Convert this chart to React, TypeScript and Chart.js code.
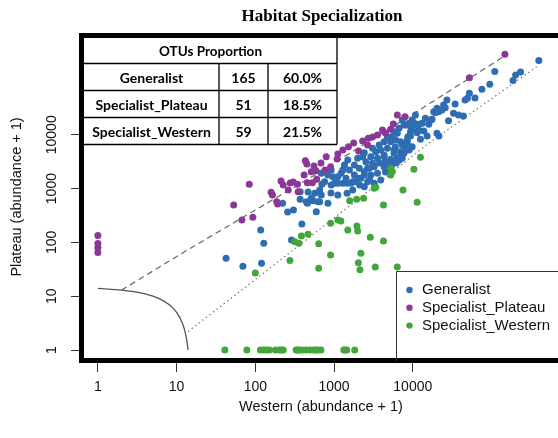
import React, { useEffect, useRef } from "react";
import { Chart, registerables } from "chart.js";

Chart.register(...registerables);

// ---------- data ----------
const xTickValues = [1, 10, 100, 1000, 10000];
const yTickValues = [1, 10, 100, 1000, 10000];
const xLimits = [0.6288, 621600];
const yLimits = [0.6246, 685600];

const chartTitle = "Habitat Specialization";
const xTitle = "Western (abundance + 1)";
const yTitle = "Plateau (abundance + 1)";

const groupNames = ["Generalist", "Specialist_Plateau", "Specialist_Western"];
const tableTitle = "OTUs Proportion";
const tableCounts = [165, 51, 59];
const tablePercents = ["60.0%", "18.5%", "21.5%"];

const generalistX = [
  42.5, 69.5, 120, 117, 128, 222, 257, 305, 288, 390, 371, 371, 458, 541, 568, 595, 656, 702, 688, 836,
  919, 1014, 1117, 1291, 1462, 1462, 1726, 1995, 2421, 2666, 3080, 3562, 4325, 5236, 6795, 2421, 5780, 8090, 9820, 6050,
  7000, 8500, 9350, 10320, 11930, 13130, 14450, 17060, 18450, 20290, 21320, 24620, 27110, 34500, 28450, 32890, 38020, 43950, 20290, 21490,
  12500, 15180, 11360, 13800, 9820, 10320, 11930, 15950, 17550, 19320, 23450, 25820, 46100, 49430, 52360, 61640, 75510, 95100, 109900, 187500,
  202300, 233800, 398800, 8500, 9350,
  7350, 8330, 9550, 8670, 6680, 5780, 4760, 5236, 7350, 7000, 5780, 4760, 4325, 3740, 3390, 2930, 2536, 2306, 1995, 1811,
  2094, 2421, 2800, 3236, 2930, 3562, 4325, 5236, 6361, 7730, 6180, 5345, 4490, 3917, 3236, 2666, 2193, 1811, 1567, 1355,
  1228, 1420, 1642, 1897, 1117, 966, 919, 759, 656, 514, 445, 688, 836, 625, 1117, 2421, 2825, 7350, 4900, 7140,
  10810, 9820, 8930, 7730, 6361, 5503, 4325, 3917, 3080,
  1726, 1291, 4490, 9010, 6000, 3775, 2113, 1493, 912, 468, 766,
];
const generalistY = [
  50.6, 36, 40.9, 170, 96.2, 533, 367, 400, 111, 220, 876, 632, 533, 596, 818, 372, 571, 1202, 1923, 1790,
  2218, 1254, 1664, 1254, 1254, 818, 1343, 1553, 1790, 2384, 2951, 3656, 3917, 3506, 3404, 4650, 4530, 5610, 6010, 8000,
  7450, 8000, 11420, 15200, 12280, 16360, 20270, 18840, 26860, 31100, 26860, 35800, 44360, 37350, 18280, 25100, 23340, 22350, 10660, 9500,
  8250, 9500, 10940, 11770, 12650, 16790, 15670, 15670, 19410, 25760, 28900, 31910, 44360, 47650, 59050, 48310, 70130, 86860, 150100, 102100,
  129200, 146900, 240400, 7130, 9500,
  18840, 15200, 13210, 9220, 13210, 11420, 9220, 7450, 6460, 4850, 5220, 5610, 4210, 6460, 4850, 3917, 3162, 3917, 3656, 2747,
  2384, 2061, 2384, 2553, 1790, 1923, 2553, 3162, 3656, 4530, 2990, 2630, 2034, 1445, 1254, 1343, 1553, 1790, 2218, 2747,
  1923, 1553, 1254, 1343, 1254, 1664, 1167, 1343, 942, 660, 571, 760, 533, 571, 760, 1084, 1445, 3705, 2415, 4210,
  23340, 18840, 16360, 15200, 10660, 9220, 7450, 5220, 5610,
  942, 2218, 3120, 5220, 5920, 2990, 1167, 3404, 828, 865, 2034,
];

const plateauX = [
  1, 1, 1, 1, 53.1, 67.6, 93, 83.8, 158.5, 165, 187, 192, 212, 226, 343, 350, 417, 432, 451, 458,
  530, 590, 602, 514, 795, 903, 1094, 1117, 1523, 2051, 2718, 2666, 3562, 4118, 5236, 6361, 7943, 52360, 147900, 1291,
  1775, 2306, 3080, 4490, 5660, 682, 556, 262, 303, 277, 766,
];
const plateauY = [
  135, 95, 80, 65, 496, 261, 293, 1202, 853, 760, 571, 517, 1384, 1167, 1202, 876, 1790, 3300, 2866, 1288,
  1288, 2152, 1489, 2061, 3917, 2553, 3548, 4395, 6010, 5000, 8610, 6460, 9910, 12280, 12650, 23340, 21680, 115100, 314800, 5212,
  7040, 7670, 9100, 10800, 15880, 2990, 2630, 942, 1327, 1271, 2218,
];

const westernX = [
  100, 275, 318, 357, 385, 468, 638, 638, 903, 903, 1117, 1220, 1493, 1950, 1995, 1581, 1937, 2373, 2884, 4240,
  2190, 2035, 2130, 3335, 6361, 3236, 3390, 4240, 7500, 11360, 5236, 5500, 5236, 10330, 12500,
  41, 78, 116, 127, 138, 151, 180, 202, 214, 226, 330, 344, 360, 393, 441, 496, 557, 590, 625, 682,
  1330, 1380, 1450, 1830,
];
const westernY = [
  27, 46, 103, 96, 131, 141, 94, 33, 226, 58, 261, 250, 170, 202, 163, 596, 632, 660, 124, 106,
  63, 42, 31, 35, 35, 1010, 1057, 496, 942, 556, 2384, 2080, 1790, 2285, 3820,
  1, 1, 1, 1, 1, 1, 1, 1, 1, 1, 1, 1, 1, 1, 1, 1, 1, 1, 1, 1,
  1, 1, 1, 1,
];

// threshold curve and classification lines
const curveX = [1, 2, 3, 4, 5, 6, 7, 8, 9, 10, 11, 12, 12.5, 13, 13.5, 14];
const curveY = [14, 13, 12, 11, 10, 9, 8, 7, 6, 5, 4, 3, 2.5, 2, 1.5, 1];
const dashedX = [2, 15, 570, 8500, 138000];
const dashedY = [13, 78, 1790, 20800, 275000];
const dottedX = [14, 367, 2666, 15200, 387000];
const dottedY = [2.2, 90, 876, 6660, 190000];

// ---------- styling ----------
const BLUE = "#2f6db3";
const PURPLE = "#8a3898";
const GREEN = "#43a63c";
const SANS = "'Liberation Sans', Arial, sans-serif";

const pts = (xs: number[], ys: number[]) => xs.map((x, i) => ({ x, y: ys[i] }));

const decorPlugin = {
  id: "decor",
  afterDraw(chart: any) {
    const { ctx, chartArea: ca, scales } = chart;
    const ys = scales.y;
    ctx.save();

    // thick plot frame (right side falls outside the canvas)
    ctx.strokeStyle = "#000";
    ctx.lineWidth = 5;
    ctx.strokeRect(ca.left - 0.5, ca.top - 0.5, ca.right - ca.left + 12, ca.bottom - ca.top);

    // title
    ctx.fillStyle = "#000";
    ctx.font = "bold 17px 'Liberation Serif', 'Times New Roman', serif";
    ctx.textAlign = "center";
    ctx.textBaseline = "middle";
    ctx.fillText(chartTitle, 322, 17);

    // axis titles
    ctx.fillStyle = "#111";
    ctx.font = `14.5px ${SANS}`;
    ctx.fillText(xTitle, 321, 407);
    ctx.save();
    ctx.translate(17, 197);
    ctx.rotate(-Math.PI / 2);
    ctx.fillText(yTitle, 0, 0);
    ctx.restore();

    // y tick labels (rotated, R style)
    ctx.font = `14px ${SANS}`;
    yTickValues.forEach((v) => {
      const py = ys.getPixelForValue(v);
      ctx.save();
      ctx.translate(52, py);
      ctx.rotate(-Math.PI / 2);
      ctx.fillText(String(v), 0, 0);
      ctx.restore();
    });

    // OTU table (top-left inset)
    const tl = ca.left + 2;
    const tr = 337;
    const rowsY = [63.5, 90.5, 117.5, 144.5];
    ctx.fillStyle = "#fff";
    ctx.fillRect(tl, ca.top + 2, tr - tl, rowsY[3] - ca.top - 2);
    ctx.strokeStyle = "#000";
    ctx.lineWidth = 1.3;
    ctx.beginPath();
    ctx.moveTo(tr, ca.top);
    ctx.lineTo(tr, rowsY[3]);
    rowsY.forEach((y) => {
      ctx.moveTo(tl, y);
      ctx.lineTo(tr, y);
    });
    ctx.moveTo(219, rowsY[0]);
    ctx.lineTo(219, rowsY[3]);
    ctx.moveTo(268, rowsY[0]);
    ctx.lineTo(268, rowsY[3]);
    ctx.stroke();
    ctx.fillStyle = "#000";
    ctx.font = "bold 13.5px Lato, 'Open Sans', sans-serif";
    ctx.fillText(tableTitle, (tl + tr) / 2, 51.5);
    ctx.font = "bold 14px Lato, 'Open Sans', sans-serif";
    groupNames.forEach((g, i) => {
      const cy = (rowsY[i] + rowsY[i + 1]) / 2 + 1;
      ctx.fillText(g, (tl + 219) / 2, cy);
      ctx.fillText(String(tableCounts[i]), (219 + 268) / 2, cy);
      ctx.fillText(tablePercents[i], (268 + tr) / 2, cy);
    });

    // legend box (bottom-right)
    ctx.strokeStyle = "#333";
    ctx.lineWidth = 1;
    ctx.beginPath();
    ctx.moveTo(396.5, ca.bottom);
    ctx.lineTo(396.5, 271.5);
    ctx.lineTo(ca.right + 5, 271.5);
    ctx.stroke();
    const colors = [BLUE, PURPLE, GREEN];
    ctx.font = `15px ${SANS}`;
    ctx.textAlign = "left";
    groupNames.forEach((g, i) => {
      const cy = 290 + i * 17.8;
      ctx.fillStyle = colors[i];
      ctx.beginPath();
      ctx.arc(409.5, cy, 3.2, 0, Math.PI * 2);
      ctx.fill();
      ctx.fillStyle = "#111";
      ctx.fillText(g, 422, cy);
    });

    ctx.restore();
  },
};

export default function App() {
  const ref = useRef<HTMLCanvasElement | null>(null);

  useEffect(() => {
    if (!ref.current) return;
    const chart = new Chart(ref.current, {
      type: "scatter",
      data: {
        datasets: [
          {
            label: groupNames[0],
            data: pts(generalistX, generalistY),
            backgroundColor: BLUE,
            borderWidth: 0,
            pointRadius: 3.5,
            order: 3,
          },
          {
            label: groupNames[1],
            data: pts(plateauX, plateauY),
            backgroundColor: PURPLE,
            borderWidth: 0,
            pointRadius: 3.5,
            order: 2,
          },
          {
            label: groupNames[2],
            data: pts(westernX, westernY),
            backgroundColor: GREEN,
            borderWidth: 0,
            pointRadius: 3.5,
            order: 1,
          },
          {
            type: "line",
            label: "threshold",
            data: pts(curveX, curveY),
            borderColor: "#555",
            borderWidth: 1.3,
            pointRadius: 0,
            showLine: true,
            fill: false,
            tension: 0,
            order: 5,
          } as any,
          {
            type: "line",
            label: "plateau line",
            data: pts(dashedX, dashedY),
            borderColor: "#666",
            borderWidth: 1.2,
            borderDash: [6, 4],
            pointRadius: 0,
            showLine: true,
            fill: false,
            tension: 0,
            order: 5,
          } as any,
          {
            type: "line",
            label: "western line",
            data: pts(dottedX, dottedY),
            borderColor: "#777",
            borderWidth: 1.2,
            borderDash: [1.5, 3],
            pointRadius: 0,
            showLine: true,
            fill: false,
            tension: 0,
            order: 5,
          } as any,
        ],
      },
      options: {
        responsive: false,
        animation: false,
        events: [],
        layout: { padding: { top: 36, left: 0, right: 0, bottom: 0 } },
        plugins: {
          legend: { display: false },
          tooltip: { enabled: false },
          title: { display: false },
        },
        scales: {
          x: {
            type: "logarithmic",
            position: "bottom",
            min: xLimits[0],
            max: xLimits[1],
            bounds: "data",
            afterBuildTicks: (s: any) => {
              s.ticks = xTickValues.map((v) => ({ value: v }));
            },
            afterFit: (s: any) => {
              s.height = 77;
            },
            grid: {
              display: true,
              drawOnChartArea: false,
              drawTicks: true,
              tickLength: 11,
              color: "#333",
              lineWidth: 1,
            },
            border: { display: false },
            ticks: {
              autoSkip: false,
              maxRotation: 0,
              minRotation: 0,
              padding: 7,
              color: "#111",
              font: { family: SANS, size: 14 },
              callback: (v: any) => String(v),
            },
          },
          y: {
            type: "logarithmic",
            position: "left",
            min: yLimits[0],
            max: yLimits[1],
            bounds: "data",
            afterBuildTicks: (s: any) => {
              s.ticks = yTickValues.map((v) => ({ value: v }));
            },
            afterFit: (s: any) => {
              s.width = 82;
            },
            grid: {
              display: true,
              drawOnChartArea: false,
              drawTicks: true,
              tickLength: 11,
              color: "#333",
              lineWidth: 1,
            },
            border: { display: false },
            ticks: { display: false },
          },
        },
      } as any,
      plugins: [decorPlugin],
    });
    return () => chart.destroy();
  }, []);

  return (
    <div
      style={{
        position: "fixed",
        left: 0,
        top: 0,
        width: 558,
        height: 438,
        overflow: "hidden",
        background: "#fff",
      }}
    >
      <canvas ref={ref} width={558} height={438} style={{ display: "block" }} />
    </div>
  );
}
